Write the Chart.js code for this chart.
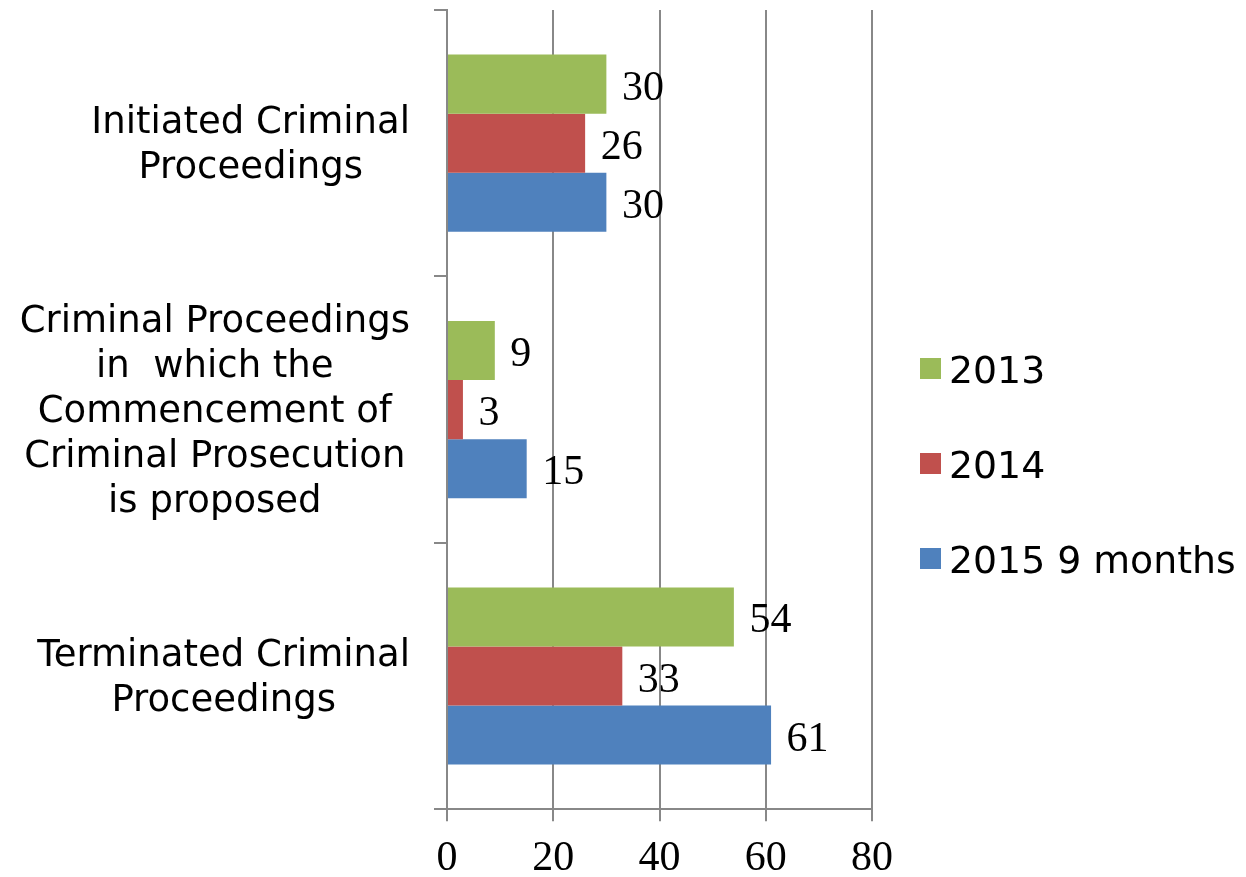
<!DOCTYPE html>
<html>
<head>
<meta charset="utf-8">
<script src="https://cdn.jsdelivr.net/npm/chart.js@4/dist/chart.umd.min.js"></script>
<style>
html, body { margin: 0; padding: 0; background: #ffffff; overflow: hidden; }
#wrap { width: 1246px; height: 877px; position: relative; }
</style>
</head>
<body>
<div id="wrap"><canvas id="c" width="1246" height="877"></canvas></div>
<script>
const categories = [
  ["Initiated Criminal", "Proceedings"],
  ["Criminal Proceedings", "in  which the", "Commencement of", "Criminal Prosecution", "is proposed"],
  ["Terminated Criminal", "Proceedings"]
];
const seriesNames = ["2013", "2014", "2015 9 months"];
const values2013 = [30, 9, 54];
const values2014 = [26, 3, 33];
const values2015 = [30, 15, 61];
const xTickValues = [0, 20, 40, 60, 80];
const seriesColors = ["#9BBB59", "#C0504D", "#4F81BD"];

const GRID = "#888888";
const SANS = "'DejaVu Sans', Verdana, sans-serif";
const SERIF = "'Liberation Serif', 'Times New Roman', serif";

const seriesValues = [values2013, values2014, values2015];

const valueLabels = {
  id: "valueLabels",
  afterDatasetsDraw(chart) {
    const ctx = chart.ctx;
    ctx.save();
    ctx.font = "42px " + SERIF;
    ctx.fillStyle = "#000";
    ctx.textAlign = "left";
    ctx.textBaseline = "alphabetic";
    chart.data.datasets.forEach((ds, di) => {
      const meta = chart.getDatasetMeta(di);
      meta.data.forEach((el, i) => {
        ctx.fillText(String(ds.data[i]), el.x + 15.5, el.y + 15.5);
      });
    });
    ctx.restore();
  }
};

const categoryLabels = {
  id: "categoryLabels",
  afterDraw(chart) {
    const ctx = chart.ctx;
    const ys = chart.scales.y;
    const right = chart.chartArea.left - 37;
    ctx.save();
    ctx.font = "37px " + SANS;
    ctx.fillStyle = "#000";
    ctx.textAlign = "center";
    ctx.textBaseline = "alphabetic";
    chart.data.labels.forEach((lines, i) => {
      const cy = ys.getPixelForValue(i);
      let w = 0;
      lines.forEach(l => { w = Math.max(w, ctx.measureText(l).width); });
      const cx = right - w / 2;
      const n = lines.length;
      lines.forEach((l, k) => {
        ctx.fillText(l, cx, cy + (k - (n - 1) / 2) * 45 + 12.5);
      });
    });
    ctx.restore();
  }
};

const sideLegend = {
  id: "sideLegend",
  afterDraw(chart) {
    const ctx = chart.ctx;
    const x0 = chart.chartArea.right + 48;
    ctx.save();
    ctx.font = "37.8px " + SANS;
    ctx.textAlign = "left";
    ctx.textBaseline = "alphabetic";
    chart.data.datasets.forEach((ds, i) => {
      const cy = 368.5 + i * 95;
      ctx.fillStyle = ds.backgroundColor;
      ctx.fillRect(x0, cy - 10.5, 21, 21);
      ctx.fillStyle = "#000";
      ctx.fillText(ds.label, x0 + 29, cy + 14);
    });
    ctx.restore();
  }
};

new Chart(document.getElementById("c"), {
  type: "bar",
  data: {
    labels: categories,
    datasets: seriesNames.map((name, i) => ({
      label: name,
      data: seriesValues[i],
      backgroundColor: seriesColors[i],
      borderWidth: 0,
      categoryPercentage: 0.665,
      barPercentage: 1.0
    }))
  },
  options: {
    indexAxis: "y",
    responsive: false,
    animation: false,
    devicePixelRatio: 1,
    layout: { padding: { top: 10, right: 374, bottom: -20, left: 0 } },
    plugins: {
      legend: { display: false },
      tooltip: { enabled: false }
    },
    scales: {
      x: {
        min: 0,
        max: 80,
        afterBuildTicks(scale) { scale.ticks = xTickValues.map(v => ({ value: v })); },
        ticks: {
          color: "#000",
          padding: 19,
          font: { family: SERIF, size: 42, lineHeight: 0.9 }
        },
        grid: { color: GRID, lineWidth: 2, tickLength: 12, drawTicks: true },
        border: { color: GRID, width: 2 }
      },
      y: {
        type: "category",
        ticks: { display: false },
        grid: { drawOnChartArea: false, drawTicks: true, tickLength: 13, color: GRID, lineWidth: 2, offset: true },
        border: { display: true, color: GRID, width: 2 },
        afterFit(scale) { scale.width = 447; }
      }
    }
  },
  plugins: [valueLabels, categoryLabels, sideLegend]
});
</script>
</body>
</html>
